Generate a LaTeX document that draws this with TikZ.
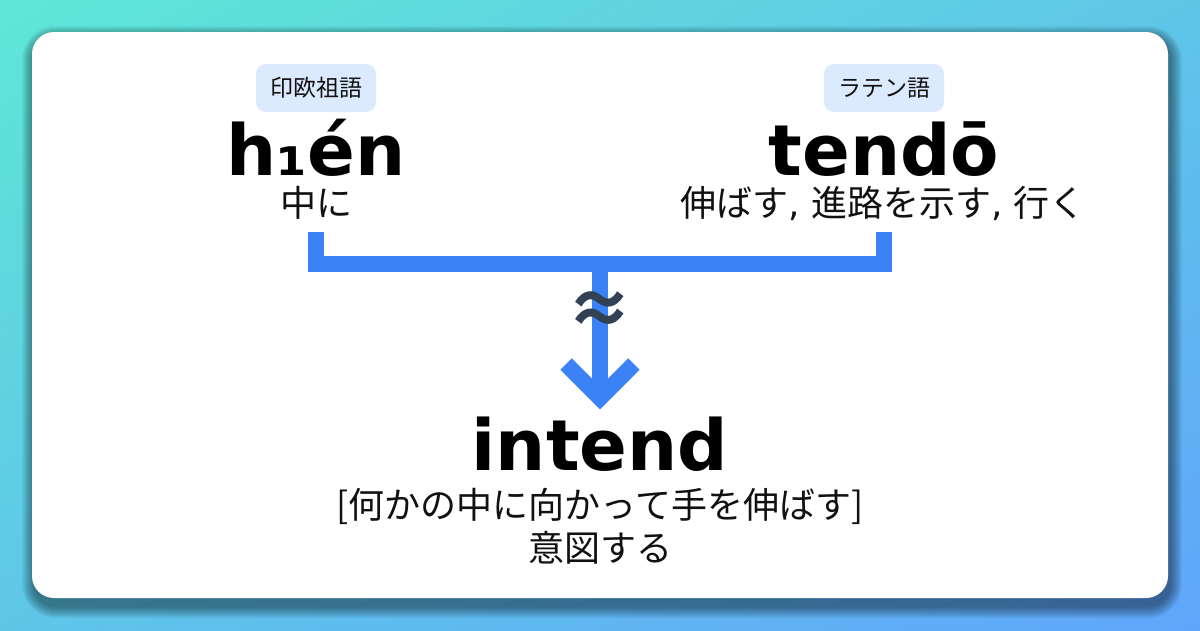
\documentclass[tikz,border=0pt]{standalone}
\usepackage{fontspec}
\usetikzlibrary{shadings}
\setmainfont{DejaVu Sans}
\newfontfamily\jpfont{Noto Sans CJK JP}
\newfontfamily\latfont{DejaVu Sans}
\definecolor{bgA}{HTML}{5EE7D6}
\definecolor{bgB}{HTML}{60A5FA}
\colorlet{bgM}{bgA!50!bgB}
\definecolor{linkblue}{HTML}{3B82F6}
\definecolor{badgebg}{HTML}{DBEAFE}
\definecolor{slate}{HTML}{334155}
\definecolor{ink}{HTML}{111111}
\tikzset{
  badge/.style={fill=badgebg, rounded corners=10, minimum width=120, minimum height=48, inner sep=0pt, text=ink, font=\jpfont\fontsize{23}{28}\selectfont},
  word/.style={inner sep=0pt, text=black, font=\latfont\bfseries\fontsize{70.5}{80}\selectfont},
  gloss/.style={inner sep=0pt, text=ink, font=\jpfont\fontsize{36}{42}\selectfont},
  conn/.style={draw=linkblue, line width=16, line cap=butt, line join=miter},
  approx/.style={inner sep=0pt, text=slate, font=\jpfont\bfseries\fontsize{67}{70}\selectfont}
}
\newcommand{\lcomma}{{\latfont, }}
\begin{document}
\begin{tikzpicture}[x=1pt,y=-1pt]
\useasboundingbox (0,0) rectangle (1200,630);
\shade[upper left=bgA, upper right=bgM, lower left=bgM, lower right=bgB] (0,0) rectangle (1200,630);
% shadow
\foreach \i in {1,...,12}{
  \fill[black, opacity=0.04, rounded corners=22+\i] (34-\i,38-\i) rectangle (1170+\i,606+\i);
}
\fill[white, rounded corners=22] (32,32) rectangle (1168,598);

% source words
\node[badge] (b1) at (316,88) {印欧祖語};
\node[word, anchor=base] (w1) at (316,175) {h₁én};
\node[gloss, anchor=base] (g1) at (316,216) {中に};

\node[badge] (b2) at (884,88) {ラテン語};
\node[word, anchor=base] (w2) at (884,175) {tendō};
\node[gloss, anchor=base] (g2) at (883,216) {伸ばす\lcomma 進路を示す\lcomma 行く};

% target
\node[word, anchor=base] (tw) at (600,470) {intend};
\node[gloss, anchor=base] (tg1) at (600,518) {[何かの中に向かって手を伸ばす]};
\node[gloss, anchor=base] (tg2) at (600,561) {意図する};

% connectors
\coordinate (lt) at (316,232);
\coordinate (rt) at (884,232);
\coordinate (mid) at (600,264);
\coordinate (tip) at (600,398);
\draw[conn] (lt) -- (lt |- mid) -- (rt |- mid) -- (rt);
\draw[conn] (mid) -- (tip);
\draw[conn] (566,364) -- (tip) -- (634,364);

\node[approx] (ap) at (600,313) {≈};
\end{tikzpicture}
\end{document}
